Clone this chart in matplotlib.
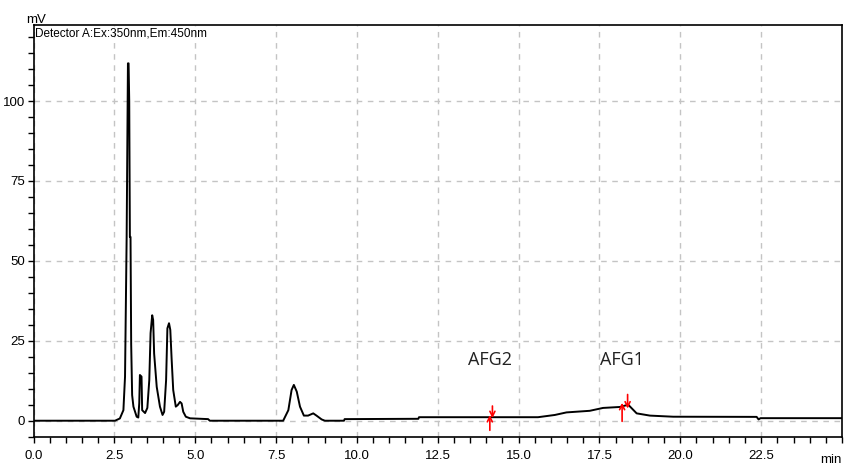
"""
    Chromatogram of the fluorescence detector with the AFG2 / AFG1 integration marks
"""
import matplotlib
matplotlib.use("Agg")
import matplotlib.pyplot as plt
from matplotlib.ticker import MultipleLocator

"""
    Data
"""
# retention time (min) and detector signal (mV)
time = [0.0, 2.52, 2.67, 2.78, 2.83, 2.88, 2.92, 2.94, 2.96, 2.98, 3.00, 3.02, 3.05, 3.09,
        3.19, 3.24, 3.27, 3.29, 3.34, 3.36, 3.39, 3.45, 3.52, 3.58, 3.62, 3.67, 3.70,
        3.73, 3.81, 3.91, 3.99, 4.04, 4.10, 4.14, 4.19, 4.23, 4.27, 4.32, 4.40, 4.46,
        4.53, 4.58, 4.63, 4.71, 4.84, 5.40, 5.45, 7.72, 7.88, 7.98, 8.05, 8.14, 8.24,
        8.36, 8.49, 8.65, 8.75, 8.91, 9.01, 9.60, 9.62, 11.90, 11.92, 15.60, 16.12,
        16.48, 17.20, 17.61, 18.13, 18.39, 18.65, 19.06, 19.78, 22.36, 22.42, 22.48, 25.0]
signal = [0.0, 0.0, 0.7, 3.3, 13.8, 57.5, 111.8, 111.8, 100.0, 57.5, 57.5, 24.0, 8.0, 4.4,
          1.25, 1.0, 5.5, 14.3, 13.8, 3.3, 3.0, 2.4, 4.0, 12.7, 27.4, 33.0, 31.5,
          21.0, 10.6, 4.4, 1.8, 2.8, 12.7, 28.9, 30.5, 28.4, 19.5, 9.6, 4.4, 4.9,
          5.9, 5.4, 2.8, 1.25, 0.75, 0.5, 0.0, 0.0, 3.3, 9.6, 11.2, 9.1, 4.4,
          1.6, 1.6, 2.3, 1.6, 0.4, 0.0, 0.0, 0.5, 0.6, 1.1, 1.1, 1.8,
          2.6, 3.1, 4.0, 4.3, 5.0, 2.3, 1.6, 1.25, 1.2, 0.4, 0.8, 0.8]

# peak names and label positions
peak_names = ["AFG2", "AFG1"]
peak_label_x = [14.1, 18.2]
peak_label_y = [19.0, 19.0]

# integration marks: (time, tail, tip)
mark_up = [(14.11, -3.0, 1.8), (18.20, -0.2, 5.6)]
mark_down = [(14.19, 4.6, 0.8), (18.37, 8.2, 3.8)]

x_ticks = [0.0, 2.5, 5.0, 7.5, 10.0, 12.5, 15.0, 17.5, 20.0, 22.5]
y_ticks = [0, 25, 50, 75, 100]

"""
    Plot
"""
plt.rcParams["font.family"] = ["Liberation Sans Narrow", "Liberation Sans", "DejaVu Sans"]

fig = plt.figure(figsize=(8.46, 4.67), dpi=100)
ax = fig.add_axes([0.0396, 0.0642, 0.9557, 0.8823])

ax.plot(time, signal, color="black", lw=1.4)

for t, tail, tip in mark_up + mark_down:
    ax.annotate("", xy=(t, tip), xytext=(t, tail),
                arrowprops=dict(arrowstyle="->", color="red", lw=1.2,
                                mutation_scale=9, shrinkA=0, shrinkB=0))

for name, lx, ly in zip(peak_names, peak_label_x, peak_label_y):
    ax.text(lx, ly, name, ha="center", va="center", fontsize=13,
            family=["Open Sans", "DejaVu Sans"], color="#222222")

ax.set_xlim(0, 25)
ax.set_ylim(-5.1, 123.8)

ax.set_xticks(x_ticks)
ax.set_xticklabels([f"{v:.1f}" for v in x_ticks])
ax.set_yticks(y_ticks)
ax.set_yticklabels([str(v) for v in y_ticks])
ax.xaxis.set_minor_locator(MultipleLocator(0.5))
ax.yaxis.set_minor_locator(MultipleLocator(5))

ax.tick_params(which="both", direction="out", length=4, width=1, labelsize=9.5,
               colors="black", pad=2)
ax.tick_params(axis="x", pad=5)

for spine in ax.spines.values():
    spine.set_linewidth(1.2)

ax.grid(True, which="major", color="#c4c4c4", linestyle=(0, (4, 4)), lw=1)

fig.text(26 / 846, 1 - 23 / 467, "mV", fontsize=9.5, ha="left", va="baseline")
fig.text(842 / 846, 1 - 463 / 467, "min", fontsize=9.5, ha="right", va="baseline")
ax.text(0.002, 0.995, "Detector A:Ex:350nm,Em:450nm", transform=ax.transAxes,
        fontsize=8.5, ha="left", va="top")

fig.savefig("out.png", dpi=100)
